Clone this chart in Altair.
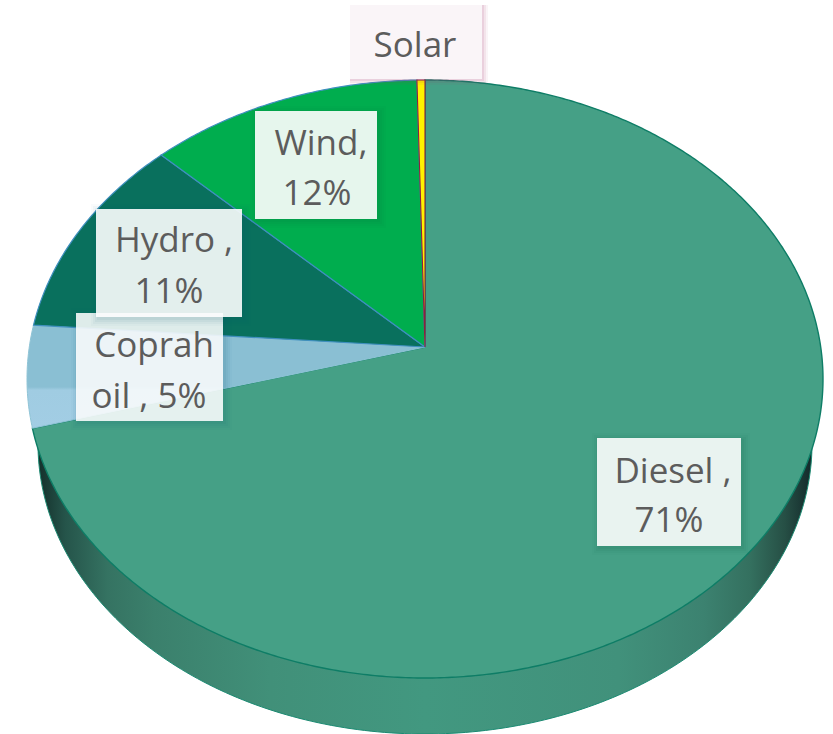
import math
import altair as alt
import pandas as pd

# Generation mix, percent of total
sources = ["Diesel", "Coprah oil", "Hydro", "Wind", "Solar"]
shares = [70.7, 5.49, 11.1, 12.35, 0.36]
label_heads = ["Diesel ,", "Coprah", "Hydro ,", "Wind,", "Solar"]
label_tails = ["", "oil , ", "", "", None]

W, H = 833, 734
FONT = "Open Sans"
FONT_SIZE = 35

# Tilted-disc geometry
CX, CY, RX, RY = 425, 379, 398, 299
TILT = 0.107
BASE_CX, BASE_CY, BASE_RX, BASE_RY = 425, 444, 387, 290


def rim_point(deg):
    """Perspective image of a point on the unit circle, clockwise from the top."""
    t = math.radians(deg)
    sx, sy = math.sin(t), math.cos(t)
    k = 1 + TILT * sy
    px = sx * math.sqrt(1 - TILT ** 2) / k
    py = (sy + TILT) / k
    return CX + RX * px, CY - RY * py


def apex():
    return CX, CY - RY * TILT


def sector_rows(name, start, end):
    pts = [apex()]
    n = max(2, int((end - start) * 2))
    pts += [rim_point(start + (end - start) * i / n) for i in range(n + 1)]
    pts.append(apex())
    return [{"slice": name, "i": i, "px": p[0], "py": p[1]} for i, p in enumerate(pts)]


x_enc = alt.X("px:Q", scale=alt.Scale(domain=[0, W], range=[0, W]), axis=None)
y_enc = alt.Y("py:Q", scale=alt.Scale(domain=[0, H], range=[0, H]), axis=None)
x2_enc = alt.X2("px2:Q")
y2_enc = alt.Y2("py2:Q")


def outline(rows, **mark):
    return alt.Chart(pd.DataFrame(rows)).mark_line(interpolate="linear", clip=True, **mark).encode(
        x=x_enc, y=y_enc, order="i:Q"
    )


side_fill = alt.Gradient(
    gradient="linear", x1=0, x2=1, y1=0, y2=0,
    stops=[
        alt.GradientStop(offset=0.0, color="#14302b"),
        alt.GradientStop(offset=0.035, color="#25544a"),
        alt.GradientStop(offset=0.09, color="#357362"),
        alt.GradientStop(offset=0.15, color="#3b806c"),
        alt.GradientStop(offset=0.3, color="#419079"),
        alt.GradientStop(offset=0.5, color="#429880"),
        alt.GradientStop(offset=0.75, color="#41917b"),
        alt.GradientStop(offset=0.86, color="#3c8270"),
        alt.GradientStop(offset=0.92, color="#34705f"),
        alt.GradientStop(offset=0.965, color="#264f45"),
        alt.GradientStop(offset=1.0, color="#13292a"),
    ],
)

coprah_fill = alt.Gradient(
    gradient="linear", x1=0, x2=0, y1=0, y2=1,
    stops=[
        alt.GradientStop(offset=0.0, color="#8abfd3"),
        alt.GradientStop(offset=0.6, color="#8abfd3"),
        alt.GradientStop(offset=0.63, color="#a0cce2"),
        alt.GradientStop(offset=1.0, color="#a2cde4"),
    ],
)

slice_style = {
    "Diesel": dict(fill="#45a086", stroke="#0e7d66", strokeWidth=1.4),
    "Coprah oil": dict(fill=coprah_fill, stroke="#8fc4d6", strokeWidth=1),
    "Hydro": dict(fill="#09705d", stroke="#3f8fbf", strokeWidth=1.2),
    "Wind": dict(fill="#00ad4e", stroke="#3f8fbf", strokeWidth=1.2),
    "Solar": dict(fill="#fff200", stroke="#8b2040", strokeWidth=1.1),
}

layers = []

# Side wall of the disc
base_rows = [
    {
        "i": d,
        "px": BASE_CX + BASE_RX * math.sin(math.radians(d)),
        "py": BASE_CY - BASE_RY * math.cos(math.radians(d)),
    }
    for d in range(0, 361, 1)
]
layers.append(outline(base_rows, fill=side_fill, stroke="#1b8a72", strokeWidth=1))

# Slices, clockwise from twelve o'clock
total = sum(shares)
angle = 0.0
for name, share in zip(sources, shares):
    sweep = share / total * 360
    layers.append(outline(sector_rows(name, angle, angle + sweep), **slice_style[name]))
    angle += sweep

# Label boxes: x0, x1, y0, y1, text centres, baselines, box style
label_boxes = {
    "Coprah oil": dict(box=(76, 223, 313, 421), cx=(154, 149), base=(357, 408), shadow="#0b5d6e", fill="#ffffff", alpha=0.87, lit=False),
    "Hydro": dict(box=(96, 242, 209, 317), cx=(174, 169), base=(252, 303), shadow="#0b5d6e", fill="#ffffff", alpha=0.89, lit=False),
    "Wind": dict(box=(255, 377, 111, 219), cx=(321, 317), base=(155, 205), shadow="#0a5f3c", fill="#ffffff", alpha=0.9, lit=False),
    "Diesel": dict(box=(597, 741, 438, 546), cx=(673, 669), base=(483, 532), shadow="#0a4f40", fill="#ffffff", alpha=0.89, lit=False),
    "Solar": dict(box=(350, 482, 5, 79), cx=(415,), base=(57,), shadow="#a8306a", fill="#faf5f8", alpha=1.0, lit=True),
}

for name in sources:
    spec = label_boxes[name]
    x0, x1, y0, y1 = spec["box"]
    # Soft drop shadow built from widening translucent boxes
    for grow, op in ((7, 0.025), (5, 0.035), (3, 0.05), (1, 0.06)):
        if spec["lit"]:
            # The top-left edges of this box sit against the white page and stay clean
            row = {"px": x0, "px2": x1 + grow - 1, "py": y0, "py2": y1 + grow - 1}
            op = op * 2.2
        else:
            row = {"px": x0 - grow + 2, "px2": x1 + grow + 2, "py": y0 - grow + 2, "py2": y1 + grow + 2}
        layers.append(
            alt.Chart(pd.DataFrame([row]))
            .mark_rect(color=spec["shadow"], opacity=op, clip=True)
            .encode(x=x_enc, x2=x2_enc, y=y_enc, y2=y2_enc)
        )
    layers.append(
        alt.Chart(pd.DataFrame([{"px": x0, "px2": x1, "py": y0, "py2": y1}]))
        .mark_rect(color=spec["fill"], opacity=spec["alpha"], clip=True)
        .encode(x=x_enc, x2=x2_enc, y=y_enc, y2=y2_enc)
    )

# Label text goes on top of every box
for name, head, tail, share in zip(sources, label_heads, label_tails, shares):
    spec = label_boxes[name]
    lines = [head] if tail is None else [head, f"{tail}{round(share)}%"]
    rows = [
        {"px": cx, "py": by, "label": line}
        for cx, by, line in zip(spec["cx"], spec["base"], lines)
    ]
    layers.append(
        alt.Chart(pd.DataFrame(rows))
        .mark_text(font=FONT, fontSize=FONT_SIZE, color="#5c5c5c", align="center", baseline="alphabetic")
        .encode(x=x_enc, y=y_enc, text="label:N")
    )

chart = (
    alt.layer(*layers)
    .properties(width=W, height=H, padding=0, autosize=alt.AutoSizeParams(type="none"), background="white")
    .configure_view(stroke=None)
)

chart.save("out.html", embed_options={"renderer": "svg", "actions": False})
